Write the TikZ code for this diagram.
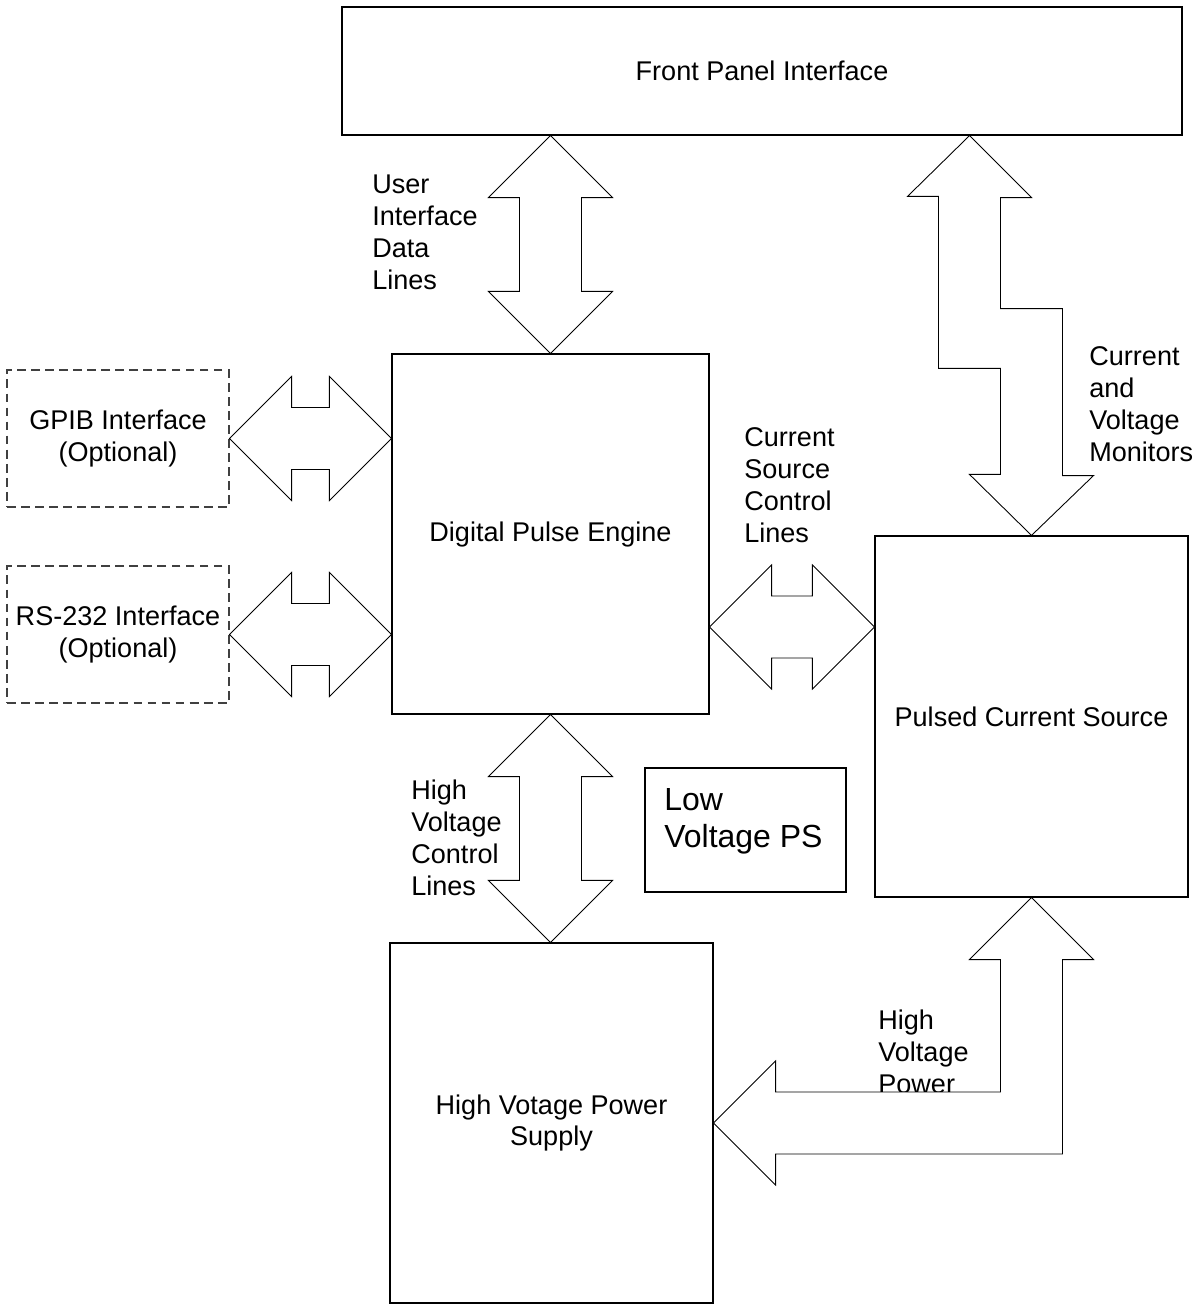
\documentclass[tikz,border=0pt]{standalone}
\usepackage{fontspec}
\setmainfont{Liberation Sans}
\usetikzlibrary{calc}

% double-headed bus arrows, tip to tip
\newcommand{\vbus}[2]{\draw[bus] (#1) -- ++(62,62) -- ++(-31,0) -- ($(#2)+(31,-62)$) -- ++(31,0) -- (#2) -- ++(-62,-62) -- ++(31,0) -- ($(#1)+(-31,62)$) -- ++(-31,0) -- cycle;}
\newcommand{\hbus}[2]{\draw[bus] (#1) -- ++(62,-62) -- ++(0,31) -- ($(#2)+(-62,-31)$) -- ++(0,-31) -- (#2) -- ++(-62,62) -- ++(0,-31) -- ($(#1)+(62,31)$) -- ++(0,31) -- cycle;}

\tikzset{
  blk/.style={draw, line width=0.7pt, inner sep=0pt, align=center, font=\fontsize{15.4}{18.2}\selectfont},
  optbox/.style={blk, draw=black!75, dash pattern=on 5pt off 3pt},
  lvbox/.style={draw, line width=1.2pt, minimum width=4.02cm, minimum height=2.48cm},
  lbl/.style={anchor=west, align=left, inner sep=0pt, font=\fontsize{15.4}{18.2}\selectfont},
  bus/.style={draw, fill=white, line width=0.5pt, line join=miter}
}

\begin{document}
\begin{tikzpicture}[x=0.02cm,y=-0.02cm]
\useasboundingbox (0,0) rectangle (1202,1305);

\node[blk, minimum width=16.8cm, minimum height=2.56cm] (fpi) at (762,71) {Front Panel Interface};
\node[blk, minimum width=6.34cm, minimum height=7.2cm] (dpe) at (550.5,534) {Digital Pulse Engine};
\node[blk, minimum width=6.26cm, minimum height=7.22cm] (pcs) at (1031.5,716.5) {Pulsed Current Source};
\node[blk, minimum width=6.46cm, minimum height=7.2cm] (hvps) at (551.5,1123) {High Votage Power\\Supply};
\node[optbox, minimum width=4.44cm, minimum height=2.74cm] (gpib) at (118,438.5) {GPIB Interface\\(Optional)};
\node[optbox, minimum width=4.44cm, minimum height=2.74cm] (rs) at (118,634.5) {RS-232 Interface\\(Optional)};
\node[lvbox] (lvps) at (745.5,830) {};
\node[anchor=north west, align=left, inner sep=0pt, font=\fontsize{18.2}{21}\selectfont] (lvpslbl) at ($(lvps.north west)+(20,21)$) {Low\\Voltage PS};

% bus labels
\node[lbl] (uidl) at (372,232) {User\\Interface\\Data\\Lines};
\node[lbl] (cvm) at (1089,404) {Current\\and\\Voltage\\Monitors};
\node[lbl] (cscl) at (744,485) {Current\\Source\\Control\\Lines};
\node[lbl] (hvcl) at (411,838) {High\\Voltage\\Control\\Lines};
\node[lbl] (hvp) at (878,1052) {High\\Voltage\\Power};

% buses
\vbus{dpe.north |- fpi.south}{dpe.north}
\vbus{dpe.south}{dpe.south |- hvps.north}
\hbus{gpib.east}{dpe.west |- gpib.east}
\hbus{rs.east}{dpe.west |- rs.east}
\coordinate (csc) at ($(dpe.east)+(0,93)$);
\hbus{csc}{pcs.west |- csc}
\coordinate (mt) at ($(pcs.north |- fpi.south)+(-62,0)$);
\draw[bus] (mt) -- ++(62,62) -- ++(-31,0) -- ++(0,111) -- ++(62,0) -- ++(0,167) -- ++(31,0) -- (pcs.north) -- ++(-62,-61) -- ++(31,0) -- ++(0,-106) -- ++(-62,0) -- ++(0,-172) -- ++(-31,0) -- cycle;
\draw[bus] (pcs.south) -- ++(62,62) -- ++(-31,0) |- ($(hvps.east)+(62,31)$) -- ++(0,31) -- (hvps.east) -- ++(62,-62) -- ++(0,31) -| ($(pcs.south)+(-31,62)$) -- ++(-31,0) -- cycle;
\end{tikzpicture}
\end{document}
